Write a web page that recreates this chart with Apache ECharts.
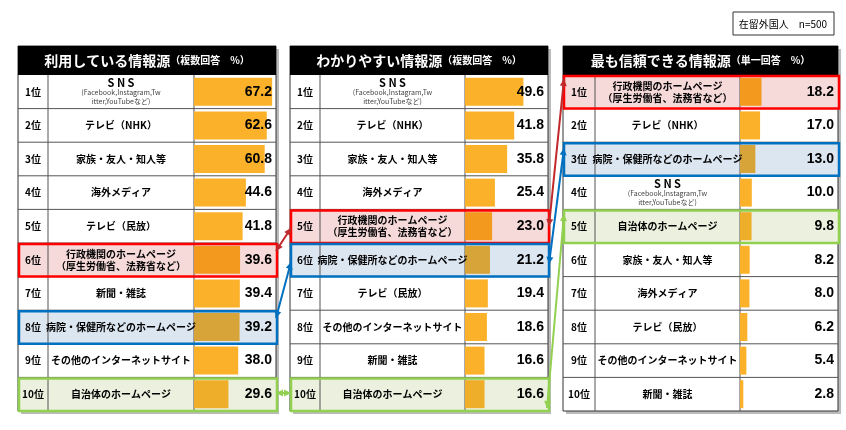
<!DOCTYPE html>
<html><head><meta charset="utf-8">
<script src="https://cdn.jsdelivr.net/npm/echarts@6/dist/echarts.min.js"></script>
<style>html,body{margin:0;padding:0;background:#fff}#c{width:846px;height:430px}</style>
</head><body><div id="c"></div>
<script>
const ranks = ['1位','2位','3位','4位','5位','6位','7位','8位','9位','10位'];
const SNS='SNS', NHK='テレビ（NHK）', FAM='家族・友人・知人等', OVS='海外メディア', TVM='テレビ（民放）',
 GOV='行政機関のホームページ（厚生労働省、法務省など）', NEWS='新聞・雑誌', HOSP='病院・保健所などのホームページ',
 NET='その他のインターネットサイト', LOC='自治体のホームページ';
const names1 = [SNS,NHK,FAM,OVS,TVM,GOV,NEWS,HOSP,NET,LOC];
const vals1  = [67.2,62.6,60.8,44.6,41.8,39.6,39.4,39.2,38.0,29.6];
const names2 = [SNS,NHK,FAM,OVS,GOV,HOSP,TVM,NET,NEWS,LOC];
const vals2  = [49.6,41.8,35.8,25.4,23.0,21.2,19.4,18.6,16.6,16.6];
const names3 = [GOV,NHK,HOSP,SNS,LOC,FAM,OVS,TVM,NET,NEWS];
const vals3  = [18.2,17.0,13.0,10.0,9.8,8.2,8.0,6.2,5.4,2.8];
const titles = ['利用している情報源','わかりやすい情報源','最も信頼できる情報源'];
const subtitles = ['（複数回答　%）','（複数回答　%）','（単一回答　%）'];

const ROW0=75, RH=33.6, HEAD=46;
const panels=[
 {x0:18,c1:48,c2:194,x1:276,max:70.5,names:names1,vals:vals1},
 {x0:290,c1:320,c2:465,x1:548,max:70.5,names:names2,vals:vals2},
 {x0:563,c1:595,c2:740,x1:838,max:83,names:names3,vals:vals3}
];
const HL={red:{bg:'#f6d9d9',bar:'#f39a1e',line:'#ff0000'},blue:{bg:'#dce6f1',bar:'#d7a43a',line:'#0070c0'},green:{bg:'#ebf1de',bar:'#eeae2a',line:'#92d050'}};
function hlOf(n){return n===GOV?'red':n===HOSP?'blue':n===LOC?'green':null;}

function fmtName(n){
 if(n===SNS) return '{s|S N S}\n{t|(Facebook,Instagram,Tw}\n{t|itter,YouTubeなど)}';
 if(n===GOV) return '{n|行政機関のホームページ}\n{n|（厚生労働省、法務省など）}';
 return '{n|'+n+'}';
}
const grids=[],xA=[],yA=[],series=[],graphic=[];
panels.forEach((p,k)=>{
 const bw=p.x1-p.c2;
 grids.push({left:p.c2,top:ROW0,width:bw,height:RH*10});
 xA.push({gridIndex:k,type:'value',min:0,max:p.max,show:false});
 yA.push({gridIndex:k,z:6,type:'category',data:p.names,inverse:true,axisLine:{show:false},axisTick:{show:false},
   axisLabel:{margin:(p.c2-p.c1)/2,align:'center',formatter:fmtName,
     rich:{n:{fontSize:10,fontWeight:'bold',color:'#000',lineHeight:12,fontFamily:'Noto Sans CJK JP'},
           s:{fontSize:11,fontWeight:'bold',color:'#000',lineHeight:11,fontFamily:'Noto Sans CJK JP'},
           t:{fontSize:7,color:'#444',lineHeight:9,fontFamily:'Noto Sans CJK JP'}}}});
 yA.push({gridIndex:k,z:6,type:'category',data:ranks,inverse:true,axisLine:{show:false},axisTick:{show:false},position:'left',
   axisLabel:{margin:p.c2-(p.x0+p.c1)/2,align:'center',fontSize:10,fontWeight:'bold',color:'#000',fontFamily:'Noto Sans CJK JP'}});
 series.push({type:'bar',xAxisIndex:k,yAxisIndex:2*k,barWidth:28,z:3,
   data:p.vals.map((v,i)=>({value:v,itemStyle:{color:hlOf(p.names[i])?HL[hlOf(p.names[i])].bar:'#fbb12a'}}))});
 series.push({type:'bar',xAxisIndex:k,yAxisIndex:2*k,barWidth:28,barGap:'-100%',z:4,silent:true,
   itemStyle:{color:'rgba(0,0,0,0)'},data:p.vals.map(()=>p.max),
   label:{show:true,position:'insideRight',distance:4,formatter:o=>p.vals[o.dataIndex].toFixed(1),
     fontSize:14,fontWeight:'bold',color:'#000',fontFamily:'Arial'}});
 graphic.push({type:'rect',z:0,shape:{x:p.x0+3,y:HEAD+3,width:p.x1-p.x0,height:ROW0+RH*10-HEAD},style:{fill:'#bbb'}});
 graphic.push({type:'rect',z:0,shape:{x:p.x0,y:HEAD,width:p.x1-p.x0,height:ROW0+RH*10-HEAD},style:{fill:'#fff',stroke:'#333',lineWidth:1}});
 graphic.push({type:'rect',z:1,shape:{x:p.x0,y:HEAD,width:p.x1-p.x0,height:ROW0-HEAD},style:{fill:'#000'}});
 graphic.push({type:'text',z:2,x:(p.x0+p.x1)/2,y:(HEAD+ROW0)/2,style:{text:'{a|'+titles[k]+'}{b|'+subtitles[k]+'}',align:'center',verticalAlign:'middle',
   rich:{a:{fill:'#fff',fontSize:14,fontWeight:'bold',fontFamily:'Noto Sans CJK JP'},b:{fill:'#fff',fontSize:10,fontWeight:'bold',fontFamily:'Noto Sans CJK JP'}}}});
 p.names.forEach((n,i)=>{
   const h=hlOf(n), y=ROW0+i*RH;
   if(h) graphic.push({type:'rect',z:1,shape:{x:p.x0,y:y,width:p.x1-p.x0,height:RH},style:{fill:HL[h].bg}});
   if(i>0) graphic.push({type:'line',z:1,shape:{x1:p.x0,y1:y,x2:p.x1,y2:y},style:{stroke:'#555',lineWidth:1}});
   if(h) graphic.push({type:'rect',z:10,shape:{x:p.x0+1,y:y+1,width:p.x1-p.x0,height:RH-1},style:{fill:null,stroke:HL[h].line,lineWidth:2.5}});
 });
 [p.c1,p.c2].forEach(x=>graphic.push({type:'line',z:1,shape:{x1:x,y1:ROW0,x2:x,y2:ROW0+RH*10},style:{stroke:'#555',lineWidth:1}}));
});
function arrow(x1,y1,x2,y2,c){
 graphic.push({type:'line',z:11,shape:{x1,y1,x2,y2},style:{stroke:c,lineWidth:2}});
 [[x1,y1,x2,y2],[x2,y2,x1,y1]].forEach(([ax,ay,bx,by])=>{
   const a=Math.atan2(by-ay,bx-ax),L=7,W=3.5;
   graphic.push({type:'polygon',z:11,shape:{points:[[bx,by],[bx-L*Math.cos(a)+W*Math.sin(a),by-L*Math.sin(a)-W*Math.cos(a)],[bx-L*Math.cos(a)-W*Math.sin(a),by-L*Math.sin(a)+W*Math.cos(a)]]},style:{fill:c}});
 });
}
arrow(276,251,291,228,'#c0282a');
arrow(276,318,291,262,'#0070c0');
arrow(276,393,291,393,'#92d050');
arrow(549,226,564,79,'#c0282a');
arrow(549,264,564,148,'#0070c0');
arrow(547,408,564,214,'#92d050');
graphic.push({type:'rect',z:1,shape:{x:733,y:12,width:101,height:23},style:{fill:'#fff',stroke:'#333',lineWidth:1}});
graphic.push({type:'text',z:2,x:783,y:24,style:{text:'在留外国人　n=500',align:'center',verticalAlign:'middle',fontSize:10,fill:'#000',fontFamily:'Noto Sans CJK JP'}});

const chart=echarts.init(document.getElementById('c'),null,{renderer:'canvas'});
chart.setOption({animation:false,grid:grids,xAxis:xA,yAxis:yA,series:series,graphic:graphic});
</script></body></html>
